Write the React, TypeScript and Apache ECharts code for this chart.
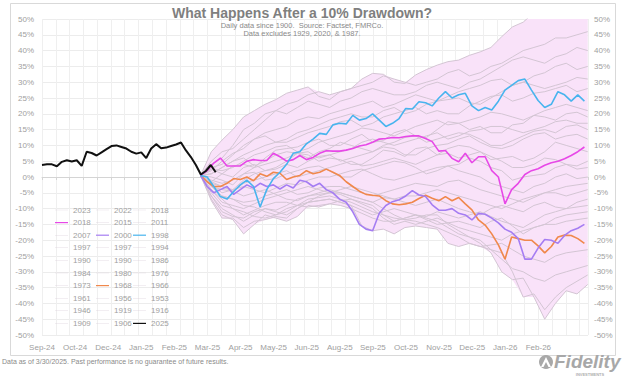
import React, { useEffect, useRef } from 'react';
import * as echarts from 'echarts';

// ---------- x axis (trading-day index) ----------
const xLabels = ['Sep-24', 'Oct-24', 'Dec-24', 'Jan-25', 'Feb-25', 'Mar-25', 'Apr-25', 'May-25', 'Jun-25', 'Aug-25', 'Sep-25', 'Oct-25', 'Nov-25', 'Dec-25', 'Jan-26', 'Feb-26'];
const LABEL_STEP = 24;
const GRID_STEP = 10;
const X_MAX = 396;

// ---------- 2025 (current) ----------
const START_2025 = 0;
const STEP_2025 = 3.6;
const s2025 = [3.8, 4.0, 4.0, 3.4, 4.8, 5.3, 4.9, 5.3, 3.5, 8.0, 7.6, 6.8, 7.8, 8.8, 9.8, 10.0, 9.5, 9.0, 8.0, 7.4, 7.8, 6.0, 9.0, 10.4, 9.1, 9.3, 9.8, 10.3, 10.9, 8.4, 6.3, 3.8, 0.8, 1.9, 3.8, 1.5];

// ---------- highlighted past drawdowns (step 4.8 days from drawdown day) ----------
const HIST_START = 115;
const COLOR_STEP = 4.8;
const s2018h = [0.5, 2, 4.4, 6, 3.5, 3.5, 3.5, 5, 5.5, 5.2, 5.2, 7.5, 6.4, 5, 5.5, 6.8, 5.5, 6.2, 7.5, 8.3, 8.2, 8.2, 8.5, 9, 9.8, 10.2, 11, 12, 12.2, 12.5, 12.4, 12.8, 13, 13, 12.2, 11.2, 8.2, 8.4, 5.9, 4.8, 7.5, 4.5, 6.4, 6.4, 2, 0, -8.5, -4, -2, 0.8, 2, 2.6, 3.7, 4.5, 5, 5.8, 6.8, 8, 9.5];
const s2000 = [0.5, -3, -5, -4, -3, -5.5, -4, -2.5, -3.5, -2, -3, -2.5, -3.8, -2.5, -3.5, -1, -1.5, -3, -2, -4, -5, -7, -8, -11, -15, -16.5, -17, -11.5, -9, -7.8, -7.2, -6, -4.3, -5.7, -6.2, -8.8, -10.5, -10.5, -10, -11.5, -12, -13.6, -11.5, -11.8, -13, -14.5, -16.5, -17.5, -19.5, -26, -26, -22.5, -19.8, -20, -21, -18.5, -17, -16.2, -15];
const s1998 = [0.5, 0, -3, -6.2, -7, -4.6, -2.5, -1, -3, -9.5, -4, -0.5, 1.5, 4, 7.5, 8, 10.5, 12, 13.8, 13.5, 16.5, 17, 16.8, 19.5, 18, 18.5, 20, 18, 16, 17, 18.5, 21.7, 21.5, 23.8, 23.5, 22.5, 25, 27, 25, 26, 26.5, 22.5, 21, 22, 21.2, 24, 27.5, 29, 30.5, 31, 27.5, 24.2, 22, 23, 27, 26, 24, 26, 24];
const s1968 = [0.5, -1.5, -3, -3, -2, -0.5, -0.8, 0, -1.2, 1, 0.2, 1.5, 1.2, -0.8, 0, 0.5, 2, 1, 1.5, 2.5, 1.5, 0.5, -1.5, -3, -4.5, -5.5, -5.8, -6, -7.5, -8.5, -8.8, -8.5, -8, -6.8, -5.8, -6.7, -7.5, -6.2, -7.5, -6.5, -8.5, -10.4, -13.6, -15.2, -18, -21.5, -26, -19, -19.5, -20, -20, -21.8, -24, -22, -19, -18.4, -18.5, -19.5, -21];

// ---------- other past drawdowns (step 7.8 days from drawdown day) ----------
const GRAY_STEP = 7.8;
const s2023 = [0.5, -1.5, 1, 3.5, 4, 3, 6, 8.5, 9, 9.5, 11, 12, 10, 10, 12, 13.5, 11, 11.5, 14, 15, 13, 12.5, 15, 17.5, 17, 15, 16, 14, 14, 16.5, 17, 19.5, 19, 18, 20, 20.5, 19];
const s2022 = [0.5, 2.5, 1, 0, 3, 4, 2, 3, 5, 7.5, 7, 5, 6, 5.5, 4, 4, 6, 8.5, 8, 6.5, 9, 9.5, 7, 9, 10, 9.5, 8, 5.5, 6, 6.5, 5, 6, 8, 11, 10, 9, 8];
const s2018 = [0.5, 0, -1, -2.5, 1, 1.5, -1, -0.5, 1, 2, 3, 3.5, 2, 0, 0, 2, 3, 4, 5, 4.5, 3, 1, 2, 3.5, 4, 6, 5, 3, 2, -1, 0, 0.5, 1, 3, 4, 2.5, 3];
const s2015 = [0.5, 1, 3, 5, 6, 3.5, 5, 7, 8, 7.5, 6, 8, 9, 11, 10, 9, 8, 10, 11, 12.5, 13, 11, 12, 13, 14, 13.5, 12, 10, 10, 11.5, 13, 14.5, 15, 14, 16, 16.5, 15];
const s2011 = [0.5, -2, -3, -4, -1, 1, 2, 2.5, 4, 3, 5, 6.5, 7, 5, 6, 7, 8, 9.5, 9, 7, 7, 9, 10, 10.5, 12, 13, 11, 9.5, 9, 10, 12, 13.5, 14, 12, 13, 13.5, 12];
const s2007 = [0.5, -3, -6, -7, -9, -9.5, -11, -12, -10, -9, -8, -6, -5, -5.5, -7, -8, -9, -12, -14, -13, -12, -13, -14, -16, -18, -19, -20, -23, -26, -29, -30, -32, -33, -31, -30, -29, -28];
const s1997a = [0.5, 3, 4, 7, 10, 12, 13, 11, 11, 12.5, 14, 15, 16, 17.5, 18, 16, 17, 19, 20, 21, 22, 20, 21, 20, 20, 22.5, 24, 25.5, 26, 24, 25, 26.5, 27, 28, 29, 27, 28];
const s1997b = [0.5, -1, -2, -1, 1, 3, 4, 5, 6, 7.5, 8, 6, 7, 8, 9, 11, 12, 11, 10, 11, 12, 13, 14, 12, 13, 14.5, 15, 16, 16, 15, 14, 15, 16, 17.5, 18, 17, 17];
const s1994 = [0.5, -3, -4, -4.5, -2, -1, 0, 1, 2, 0, 1, 2, 3, 4, 5, 3.5, 4, 5, 6, 5, 4, 5.5, 7, 7.5, 6, 7, 8, 6.5, 5, 3, 3, 4, 6, 5.5, 4, 3.5, 5];
const s1990a = [0.5, 8, 11.7, 15, 19, 21, 23, 24.5, 26.5, 27.5, 28.5, 25.5, 24.5, 27, 28, 31, 32.8, 32.5, 30, 29.6, 32.3, 34, 35.4, 36.5, 37, 38.5, 39.6, 41, 44.4, 47.5, 49, 52, 54, 55, 56, 54, 57];
const s1990b = [0.5, -2.5, -5, -4, -3, -4, -5, -3.5, -2, -2.5, -1, 0, 0, 1, 2, 2.5, 1, -0.5, -1, 0, 1, 2, 3, 3.5, 2, 1, 0, -2, -3, -4, -5, -3, -2, 0, 1, -0.5, 0];
const s1986 = [0.5, 2, 5, 7.5, 9, 12, 14, 15, 16, 18, 19, 18.5, 20, 21, 22, 23, 24, 22, 23, 24.5, 26, 25, 24, 25.5, 27, 28, 29, 30.5, 31, 29, 30, 32, 33, 35, 36, 34, 35];
const s1984 = [0.5, 1, 3, 5, 7, 8.5, 10, 11, 12, 14, 15, 16.5, 18, 19, 20, 19, 19, 21, 22, 20, 21, 23, 24, 24.5, 25, 23.5, 23, 25, 27, 29, 30, 29, 28, 29, 30, 31.5, 31];
const s1980 = [0.5, 4, 6, 10, 15, 17, 20, 21, 20, 22, 24, 23, 22, 24, 25, 27, 28, 27, 26, 26, 27, 29, 30, 29, 28, 30, 31, 33, 35, 37, 38, 37, 36, 38, 39, 41, 40];
const s1976 = [0.5, -3, -6, -7, -8, -7.5, -6, -5, -4, -5.5, -5, -3.5, -3, -3, -4, -5, -6, -5, -4, -3, -2, -2.5, -3, -1.5, -1, -2.5, -4, -5, -6, -7, -8, -6.5, -5, -4, -3, -2.5, -2];
const s1973 = [0.5, -6, -11, -12.5, -13, -11, -10, -10.5, -9, -7, -6, -5.5, -5, -5, -6, -7, -8, -10, -12, -13.5, -13, -12, -12, -15, -17, -19, -21, -24, -30, -32.5, -32, -38, -45, -40, -36, -37, -34];
const s1966 = [0.5, -1.5, -3, -4.5, -6, -5, -4, -5.5, -7, -7.5, -6, -5, -4, -5, -6, -7, -8, -6.5, -7, -8, -9, -8, -7, -8.5, -10, -11, -12, -10, -9, -10, -11, -9, -8, -9.5, -10, -8, -7];
const s1961 = [0.5, -4, -8, -9, -10, -8.5, -7, -6, -5, -4, -3, -4, -5, -4, -3, -4, -5, -6, -7, -6, -6, -5, -4, -5, -6, -7, -8, -9, -10, -8.5, -7, -6, -5, -5, -6, -5, -4];
const s1956 = [0.5, 2.5, 2, 3, 5, 7, 8, 9.5, 10, 8, 9, 11, 12, 13, 14, 15.5, 15, 14, 13, 14.5, 16, 17, 18, 16.5, 17, 18, 19, 20.5, 20, 19, 18, 19.5, 21, 22, 23, 22, 21];
const s1953 = [0.5, 5, 8, 9, 12, 15, 18, 21, 23, 24, 26, 27, 26, 27, 28, 29, 30, 32, 31, 30, 29, 30, 31, 33, 34, 32, 33, 35, 36, 38, 40, 41, 42, 44, 44, 45, 46];
const s1946 = [0.5, -6, -10, -12, -14, -12, -10, -11, -12, -10, -8, -7.5, -7, -8, -9, -10.5, -12, -11, -10, -11, -12, -12.5, -11, -12, -13, -12, -11, -12.5, -14, -15, -16, -14, -12, -11, -10, -9.5, -9];
const s1919 = [0.5, -4, -7, -10, -12, -10.5, -9, -8, -8, -9, -9.5, -9, -8.5, -9, -10, -11.5, -13, -14, -14, -13, -12, -13.5, -15, -14.5, -14, -15, -16, -14, -13, -15.5, -18, -16, -15, -13, -12, -11.5, -11];
const s1916 = [0.5, -5, -9, -10, -11, -12.5, -13, -12, -11, -9, -7, -6.5, -6, -7, -8, -9.5, -11, -12, -13, -13.5, -14, -15, -16, -17.5, -19, -21, -22, -21.5, -21, -23, -25, -26, -27, -25, -24, -23.5, -23];
const s1909 = [0.5, -7, -12, -13.5, -18, -15, -12, -13, -14, -12.5, -9, -9.5, -8.5, -7.5, -7, -8.5, -10, -13, -15, -14, -15, -14, -13, -14.5, -16, -17, -18, -19, -20, -18, -17, -16, -15, -15, -14, -13.5, -13];
const s1906 = [0.5, -7.5, -13, -13, -16, -14, -13.5, -12.5, -13, -10, -8, -7.5, -7, -8, -9, -15.5, -17, -16.5, -18, -16, -15.5, -16, -16.5, -21, -22, -21, -22, -23, -24, -30, -38, -37, -42, -38, -35, -33, -31];

// ---------- legend columns ----------
const legendCol1 = ['2023', '2018 ', '2007', '1997', '1990', '1984', '1973', '1961', '1946', '1909'];
const legendCol2 = ['2022', '2015', '2000', '1997 ', '1990 ', '1980', '1968', '1956', '1919', '1906'];
const legendCol3 = ['2018', '2011', '1998', '1994', '1986', '1976', '1966', '1953', '1916', '2025'];
const thickLegend = ['2018 ', '2000', '1998', '1968', '2025'];

const FONT = 'Liberation Sans, Arial, sans-serif';
const GRAY = '#d3c5d3';
const BAND = '#f9e2f9';

const grayNamed: [string, number[]][] = [
  ['2023', s2023], ['2022', s2022], ['2018', s2018], ['2015', s2015], ['2011', s2011],
  ['2007', s2007], ['1997', s1997a], ['1997 ', s1997b], ['1994', s1994], ['1990', s1990a],
  ['1990 ', s1990b], ['1986', s1986], ['1984', s1984], ['1980', s1980], ['1976', s1976],
  ['1973', s1973], ['1966', s1966], ['1961', s1961], ['1956', s1956], ['1953', s1953],
  ['1946', s1946], ['1919', s1919], ['1916', s1916], ['1909', s1909], ['1906', s1906],
];

const colored: [string, number[], string][] = [
  ['1968', s1968, '#f0884c'],
  ['2000', s2000, '#a57df2'],
  ['2018 ', s2018h, '#e748e7'],
  ['1998', s1998, '#48b4ee'],
];

const toXY = (vals: number[], start: number, step: number) =>
  vals.map((v, i) => [+(start + i * step).toFixed(3), v]);

export default function App() {
  const ref = useRef<HTMLDivElement>(null);
  useEffect(() => {
    if (!ref.current) return;
    const chart = echarts.init(ref.current, undefined, { renderer: 'svg' });

    const n = s2023.length;
    const upper: number[][] = [];
    const lower: number[][] = [];
    for (let i = 0; i < n; i++) {
      const vals = grayNamed.map((g) => g[1][i]);
      const x = +(HIST_START + i * GRAY_STEP).toFixed(3);
      upper.push([x, Math.max(...vals)]);
      lower.push([x, Math.min(...vals)]);
    }

    const series: any[] = [
      {
        name: 'band', type: 'custom', silent: true, clip: true, z: 1,
        data: [[HIST_START, 0]], encode: { x: 0, y: 1 },
        renderItem: (params: any, api: any) => {
          const pts = upper.map((p) => api.coord(p)).concat(lower.slice().reverse().map((p) => api.coord(p)));
          return { type: 'polygon', shape: { points: pts }, style: { fill: BAND } };
        },
      },
    ];
    grayNamed.forEach(([name, vals]) => {
      series.push({
        name, type: 'line', data: toXY(vals, HIST_START, GRAY_STEP), symbol: 'none',
        lineStyle: { color: GRAY, width: 1 }, itemStyle: { color: GRAY }, z: 2, silent: true,
      });
    });
    colored.forEach(([name, vals, color]) => {
      series.push({
        name, type: 'line', data: toXY(vals, HIST_START, COLOR_STEP), symbol: 'none',
        lineStyle: { color, width: 1.6 }, itemStyle: { color }, z: 3, silent: true,
      });
    });
    series.push({
      name: '2025', type: 'line', data: toXY(s2025, START_2025, STEP_2025), symbol: 'none',
      lineStyle: { color: '#111111', width: 2 }, itemStyle: { color: '#111111' }, z: 4, silent: true,
    });

    const legendLefts = [55, 96, 133];
    const legends = [legendCol1, legendCol2, legendCol3].map((names, i) => ({
      data: names.map((nm) => ({
        name: nm,
        icon: thickLegend.includes(nm) ? 'path://M0,0H13V1.2H0Z' : 'path://M0,0H13V0.3H0Z',
        itemStyle: { borderWidth: 0 },
      })),
      orient: 'vertical', left: legendLefts[i], top: 206, padding: 0,
      itemWidth: 13, itemHeight: 8, itemGap: 4.6, selectedMode: false, symbolKeepAspect: true,
      itemStyle: { borderWidth: 0 },
      formatter: (nm: string) => nm.trim(),
      textStyle: { color: '#a0a0a0', fontSize: 8, fontFamily: FONT },
    }));

    const labelAxis = { fontSize: 8, color: '#a0a0a0', fontFamily: FONT };

    chart.setOption({
      animation: false,
      backgroundColor: '#ffffff',
      grid: { left: 42, right: 36, top: 19, bottom: 49, containLabel: false },
      legend: legends,
      xAxis: [
        {
          type: 'value', min: 0, max: X_MAX, interval: LABEL_STEP, position: 'bottom',
          axisLine: { show: false, onZero: false }, axisTick: { show: false }, splitLine: { show: false },
          axisLabel: {
            ...labelAxis, margin: 8, showMaxLabel: false,
            formatter: (v: number) => {
              const i = Math.round(v / LABEL_STEP);
              return Math.abs(v - i * LABEL_STEP) < 0.01 && i < xLabels.length ? xLabels[i] : '';
            },
          },
        },
        {
          type: 'value', min: 0, max: X_MAX, interval: GRID_STEP, position: 'bottom',
          axisLine: { show: true, onZero: true, lineStyle: { color: '#d4d4d4', width: 1 } },
          axisTick: { show: true, length: 3, lineStyle: { color: '#d4d4d4' } },
          axisLabel: { show: false },
          splitLine: { show: true, lineStyle: { color: '#efefef', width: 1 } },
        },
      ],
      yAxis: [
        {
          type: 'value', min: -50, max: 50, interval: 5, position: 'left',
          axisLine: { show: false, onZero: false }, axisTick: { show: false },
          axisLabel: { ...labelAxis, margin: 8, formatter: '{value}%' },
          splitLine: { show: true, lineStyle: { color: '#ececec', width: 1 } },
        },
        {
          type: 'value', min: -50, max: 50, interval: 5, position: 'right',
          axisLine: { show: false, onZero: false }, axisTick: { show: false },
          axisLabel: { ...labelAxis, margin: 6, formatter: '{value}%' },
          splitLine: { show: false },
        },
      ],
      series,
      graphic: [
        {
          type: 'rect', z: -10, silent: true,
          shape: { x: 10.5, y: 3.5, width: 605, height: 352 },
          style: { fill: 'none', stroke: '#d9d9d9', lineWidth: 1 },
        },
        {
          type: 'text', silent: true, z: 100,
          style: {
            text: 'What Happens After a 10% Drawdown?', x: 302, y: 13,
            textAlign: 'center', textVerticalAlign: 'middle', align: 'center', verticalAlign: 'middle',
            fill: '#7f7f7f', font: `bold 14px ${FONT}`,
          },
        },
        {
          type: 'text', silent: true, z: 100,
          style: {
            text: 'Daily data since 1900.  Source: Factset, FMRCo.', x: 302, y: 25,
            textAlign: 'center', textVerticalAlign: 'middle', align: 'center', verticalAlign: 'middle',
            fill: '#8a8a8a', font: `7.5px ${FONT}`,
          },
        },
        {
          type: 'text', silent: true, z: 100,
          style: {
            text: 'Data excludes 1929, 2020, & 1987.', x: 302, y: 33.5,
            textAlign: 'center', textVerticalAlign: 'middle', align: 'center', verticalAlign: 'middle',
            fill: '#8a8a8a', font: `7.5px ${FONT}`,
          },
        },
        {
          type: 'text', silent: true,
          style: {
            text: 'Data as of 3/30/2025. Past performance is no guarantee of future results.', x: 2, y: 361,
            textAlign: 'left', textVerticalAlign: 'middle', align: 'left', verticalAlign: 'middle',
            fill: '#8a8a8a', font: `7px ${FONT}`,
          },
        },
        {
          type: 'circle', silent: true,
          shape: { cx: 546, cy: 362, r: 7 },
          style: { fill: '#a8a8a8' },
        },
        {
          type: 'polygon', silent: true,
          shape: { points: [[541, 367], [546, 357], [551, 367], [548.5, 367], [546, 362], [543.5, 367]] },
          style: { fill: '#ffffff' },
        },
        {
          type: 'text', silent: true,
          style: {
            text: 'Fidelity', x: 554, y: 361,
            textAlign: 'left', textVerticalAlign: 'middle', align: 'left', verticalAlign: 'middle',
            fill: '#a8a8a8', font: `italic bold 19px ${FONT}`,
          },
        },
        {
          type: 'text', silent: true,
          style: {
            text: 'INVESTMENTS', x: 590, y: 374,
            textAlign: 'center', textVerticalAlign: 'middle', align: 'center', verticalAlign: 'middle',
            fill: '#b0b0b0', font: `bold 4px ${FONT}`,
          },
        },
      ],
    });

    return () => chart.dispose();
  }, []);

  return (
    <div
      ref={ref}
      style={{ position: 'fixed', left: 0, top: 0, width: 624, height: 384, background: '#fff' }}
    />
  );
}
